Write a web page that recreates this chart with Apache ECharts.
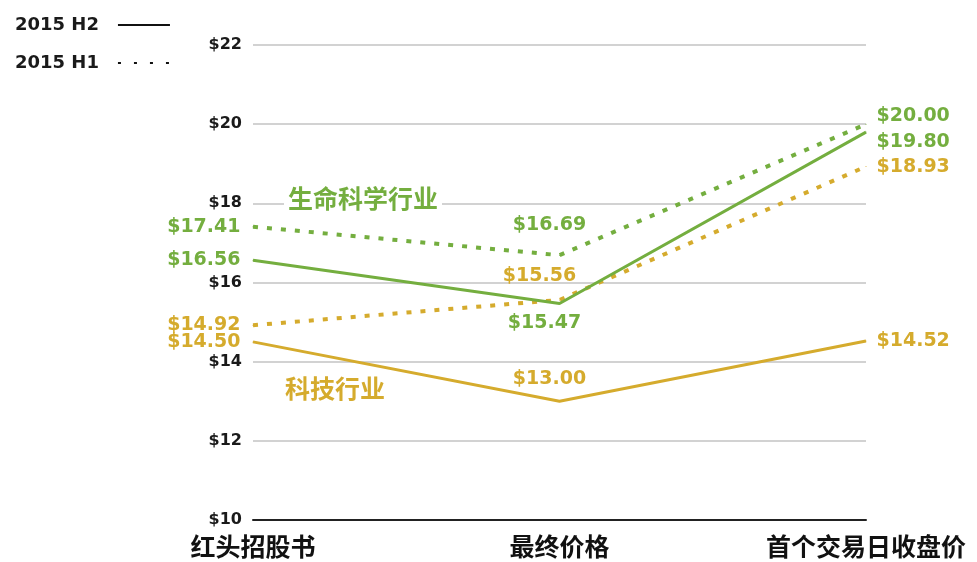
<!DOCTYPE html>
<html>
<head>
<meta charset="utf-8">
<script src="https://cdn.jsdelivr.net/npm/echarts@6/dist/echarts.min.js"></script>
<style>
  html, body { margin: 0; padding: 0; background: #fff; }
  #chart { width: 977px; height: 562px; }
</style>
</head>
<body>
<div id="chart"></div>
<script>
// categories and values
const categories = ['红头招股书', '最终价格', '首个交易日收盘价'];
const lifeH2 = [16.56, 15.47, 19.80];
const lifeH1 = [17.41, 16.69, 20.00];
const techH2 = [14.50, 13.00, 14.52];
const techH1 = [14.92, 15.56, 18.93];
const yTicks = { min: 10, max: 22, step: 2 };

const GREEN = '#74ae3f';
const GOLD = '#d5ab2d';
const numFont = 'DejaVu Sans';

// label placement per point: [left, middle, right]
function pointLabels(vals, color, mid, right) {
  return vals.map((v, i) => {
    let lab;
    if (i === 0) lab = { position: 'left', distance: 12, offset: [0, 0] };
    else if (i === 1) lab = { position: 'inside', offset: mid };
    else lab = { position: 'right', distance: 10, offset: right };
    return {
      value: v,
      label: Object.assign({
        show: true,
        formatter: '$' + v.toFixed(2),
        color: color,
        fontFamily: numFont,
        fontWeight: 'bold',
        fontSize: 19
      }, lab)
    };
  });
}

function lineSeries(name, vals, color, dotted, mid, right) {
  return {
    name: name,
    type: 'line',
    data: pointLabels(vals, color, mid, right),
    symbol: 'circle',
    symbolSize: 1,
    itemStyle: { color: color },
    lineStyle: dotted
      ? { color: color, width: 4, type: [5, 9] }
      : { color: color, width: 3 },
    z: dotted ? 3 : 4,
    silent: true
  };
}

const chart = echarts.init(document.getElementById('chart'), null, { renderer: 'canvas' });

const option = {
  animation: false,
  grid: { left: 253, right: 111, top: 45, bottom: 42 },
  legend: {
    left: 10,
    top: 11,
    orient: 'vertical',
    align: 'right',
    itemWidth: 52,
    itemHeight: 14,
    itemGap: 20,
    data: ['2015 H2', '2015 H1'],
    itemStyle: { opacity: 0 },
    textStyle: {
      fontFamily: numFont, fontWeight: 'bold', fontSize: 18, color: '#1a1a1a',
      padding: [0, 14, 0, 0]
    }
  },
  xAxis: {
    type: 'category',
    data: categories,
    boundaryGap: false,
    axisLine: { lineStyle: { color: '#222', width: 2 } },
    axisTick: { show: false },
    axisLabel: {
      margin: 14,
      fontFamily: 'Noto Sans CJK SC',
      fontWeight: 'bold',
      fontSize: 25,
      color: '#111'
    },
    splitLine: { show: false }
  },
  yAxis: {
    type: 'value',
    min: yTicks.min,
    max: yTicks.max,
    interval: yTicks.step,
    axisLine: { show: false },
    axisTick: { show: false },
    axisLabel: {
      margin: 11,
      formatter: '${value}',
      fontFamily: numFont,
      fontWeight: 'bold',
      fontSize: 16,
      color: '#1a1a1a'
    },
    splitLine: { lineStyle: { color: '#d2d2d2', width: 2 } }
  },
  graphic: [
    {
      type: 'text',
      left: 284,
      top: 186,
      z: 10,
      style: {
        text: '生命科学行业',
        fill: GREEN,
        font: 'bold 25px "Noto Sans CJK SC"',
        backgroundColor: '#fff',
        padding: [0, 4]
      }
    },
    {
      type: 'text',
      left: 283,
      top: 376,
      z: 10,
      style: {
        text: '科技行业',
        fill: GOLD,
        font: 'bold 25px "Noto Sans CJK SC"',
        backgroundColor: '#fff',
        padding: [0, 2]
      }
    }
  ],
  series: [
    lineSeries('生命科学 H1', lifeH1, GREEN, true, [-10, -30], [0, -8]),
    lineSeries('生命科学 H2', lifeH2, GREEN, false, [-15, 20], [0, 10]),
    lineSeries('科技 H1', techH1, GOLD, true, [-20, -24], [0, 1]),
    lineSeries('科技 H2', techH2, GOLD, false, [-10, -22], [0, 0]),
    {
      name: '2015 H2', type: 'line', data: [], symbol: 'none',
      itemStyle: { color: '#111' }, lineStyle: { color: '#111', width: 3 }
    },
    {
      name: '2015 H1', type: 'line', data: [], symbol: 'none',
      itemStyle: { color: '#111' }, lineStyle: { color: '#111', width: 3, type: [3, 13] }
    }
  ]
};

chart.setOption(option);
</script>
</body>
</html>
